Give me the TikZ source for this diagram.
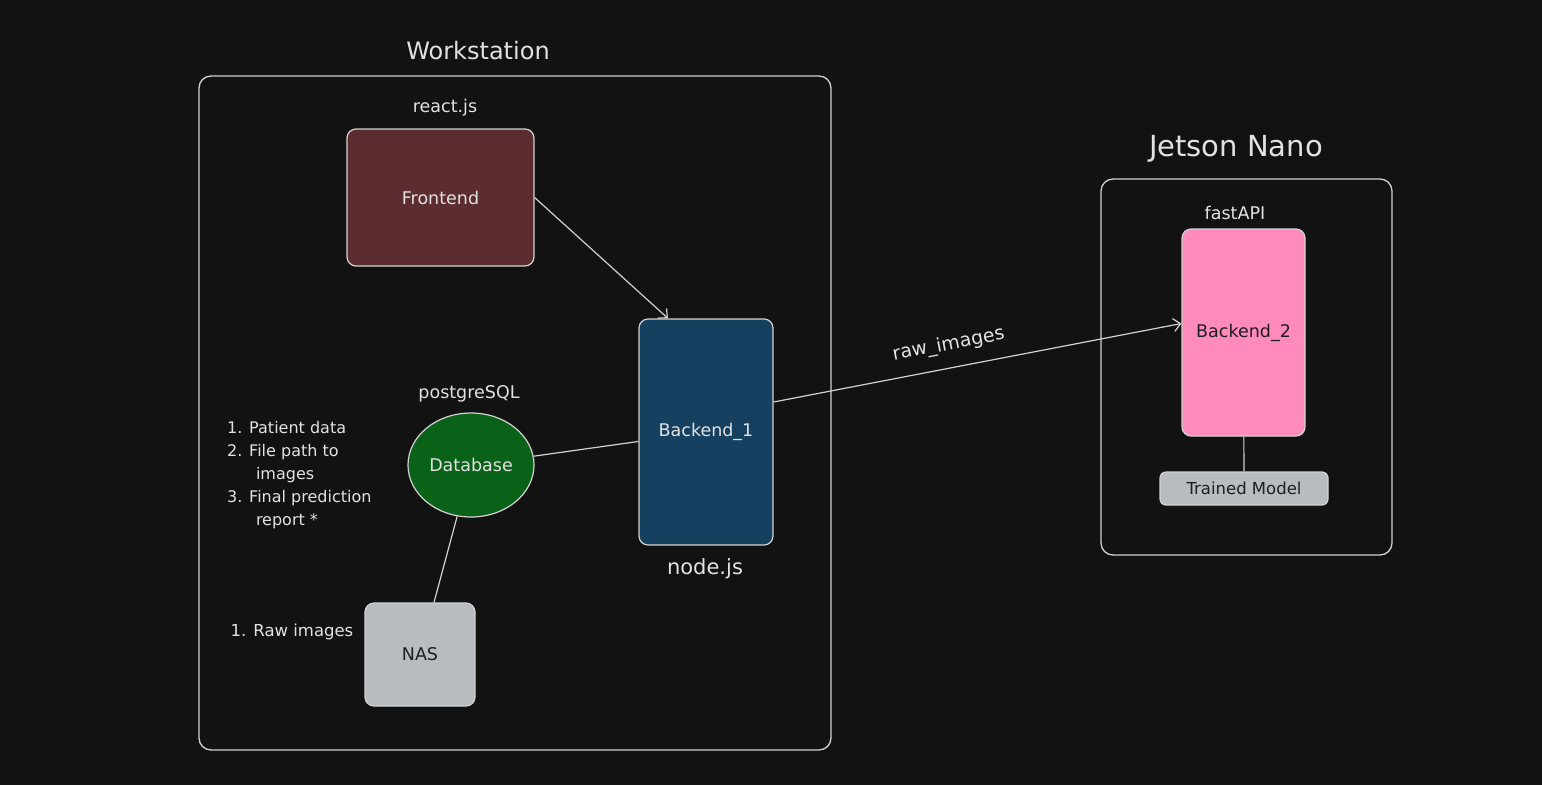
\documentclass[tikz,border=0pt]{standalone}
\usepackage{fontspec}
\setmainfont{DejaVu Sans}
\usetikzlibrary{arrows.meta,shapes.geometric}

\definecolor{bgdark}{HTML}{121212}
\definecolor{strokelight}{HTML}{D2D2D2}
\definecolor{textlight}{HTML}{E2E2E2}
\definecolor{textdark}{HTML}{1E1E1E}
\definecolor{frontmaroon}{HTML}{5C2D30}
\definecolor{backnavy}{HTML}{15405F}
\definecolor{dbgreen}{HTML}{0A6118}
\definecolor{jetpink}{HTML}{FF8BBD}
\definecolor{nasgrey}{HTML}{B8BCC0}

\tikzset{
  groupframe/.style={draw=strokelight, line width=1.3pt, rounded corners=12pt},
  compbox/.style={draw=strokelight, line width=1.2pt, rounded corners=9pt, inner sep=0pt,
    text=textlight, font=\fontsize{17.5}{21}\selectfont},
  lbl/.style={text=textlight, inner sep=0pt, font=\fontsize{17.5}{21}\selectfont},
  wire/.style={draw=strokelight, line width=1.2pt},
  arrowwire/.style={wire, -{Straight Barb[length=7pt, width=13pt]}},
}

\begin{document}
\begin{tikzpicture}[x=1pt, y=-1pt]

\fill[bgdark] (0,0) rectangle (1542,785);

% workstation
\draw[groupframe] (199,76) rectangle (831,750);
\node[lbl, font=\fontsize{24}{28}\selectfont] (wstitle) at (478,51) {Workstation};

\node[compbox, fill=frontmaroon, minimum width=187pt, minimum height=137pt] (fe) at (440.5,197.5) {Frontend};
\node[lbl] (reactlbl) at (445,108) {react.js};

\node[compbox, fill=backnavy, minimum width=134pt, minimum height=226pt] (b1) at (706,432) {Backend\_1};
\node[lbl, font=\fontsize{21}{25}\selectfont] (nodelbl) at (705,569) {node.js};

\node[compbox, ellipse, fill=dbgreen, minimum width=126pt, minimum height=104pt] (db) at (471,465) {Database};
\node[lbl] (pglbl) at (469,394) {postgreSQL};

\node[lbl, anchor=north west, align=left, font=\fontsize{16}{23}\selectfont] (dblist) at (227,421)
  {1. Patient data\\2. File path to\\\hspace*{1.8em}images\\3. Final prediction\\\hspace*{1.8em}report *};

\node[compbox, fill=nasgrey, text=textdark, minimum width=110pt, minimum height=103pt] (nas) at (420,654.5) {NAS};
\node[lbl, font=\fontsize{16.5}{20}\selectfont] (naslist) at (292,632) {1. Raw images};

% jetson nano
\draw[groupframe] (1101,179) rectangle (1392,555);
\node[lbl, font=\fontsize{29}{33}\selectfont] (jntitle) at (1236,149) {Jetson Nano};

\node[compbox, fill=jetpink, text=textdark, minimum width=123pt, minimum height=207pt] (b2) at (1243.5,332.5) {Backend\_2};
\node[lbl] (fastlbl) at (1235,213) {fastAPI};

\node[compbox, fill=nasgrey, text=textdark, rounded corners=6pt, minimum width=168pt, minimum height=33pt,
  font=\fontsize{16.5}{20}\selectfont] (tm) at (1244,488.5) {Trained Model};

% connectors
\draw[arrowwire] (fe.east) -- ([xshift=-38pt]b1.north);
\draw[wire] (db) -- (b1);
\draw[wire] (db) -- (nas);
\draw[arrowwire] ([yshift=30pt]b1.east) -- node[lbl, sloped, above=13pt, pos=0.44, font=\fontsize{19}{23}\selectfont] {raw\_images} ([yshift=9pt]b2.west);
\draw[wire] (b2) -- (tm);

\end{tikzpicture}
\end{document}
